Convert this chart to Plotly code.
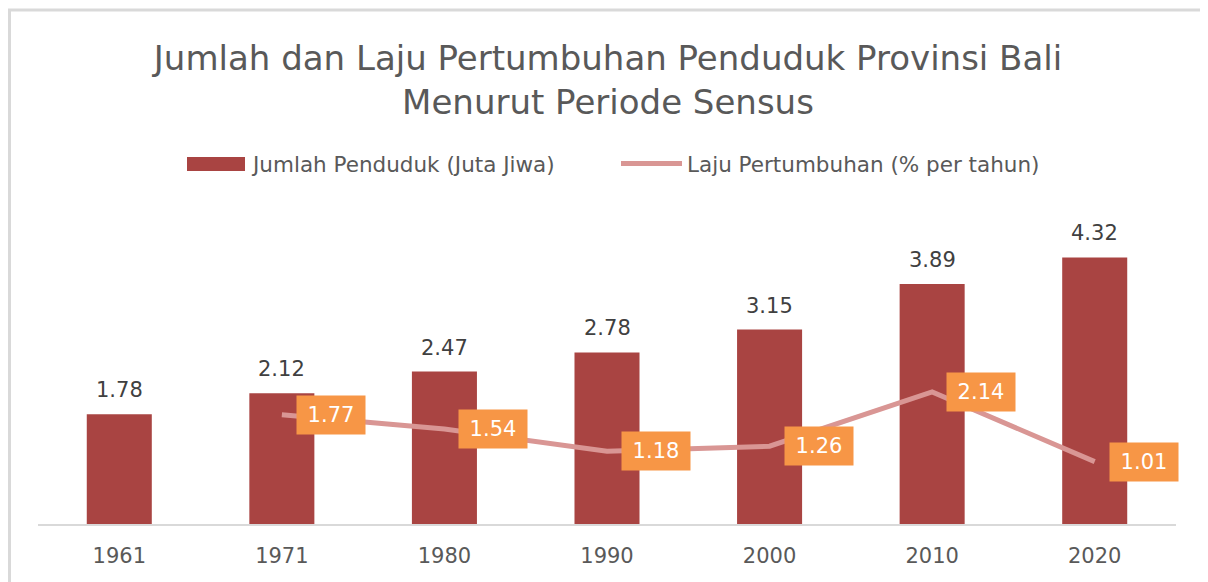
import plotly.graph_objects as go

years = ["1961", "1971", "1980", "1990", "2000", "2010", "2020"]
jumlah = [1.78, 2.12, 2.47, 2.78, 3.15, 3.89, 4.32]
laju_years = ["1971", "1980", "1990", "2000", "2010", "2020"]
laju = [1.77, 1.54, 1.18, 1.26, 2.14, 1.01]
legend_names = ["Jumlah Penduduk (Juta Jiwa)", "Laju Pertumbuhan (% per tahun)"]

FONT = "DejaVu Sans"
TXT = "#595959"
BAR = "#A94442"
LINE = "#D99694"
ORANGE = "#F79646"

# page is offset by the 8px body margin; work in page pixels, convert to figure pixels
OFF = 8
FW, FH = 1208 - OFF, 582 - OFF
L, R, T, B = 38 - OFF, 1176 - OFF, 200 - OFF, 524 - OFF
W, H = R - L, B - T
def px(x): return (x - OFF - L) / W       # page x -> paper
def py(y): return (B - (y - OFF)) / H     # page y -> paper

fig = go.Figure()
fig.add_trace(go.Bar(
    x=years, y=jumlah, name=legend_names[0],
    marker=dict(color=BAR, line=dict(width=0)), hoverinfo="x+y",
))
fig.add_trace(go.Scatter(
    x=laju_years, y=laju, name=legend_names[1],
    mode="lines", line=dict(color=LINE, width=5),
))

ann = []
for x, v in zip(years, jumlah):
    ann.append(dict(x=years.index(x), y=v, text=f"{v:.2f}", showarrow=False, yanchor="bottom",
                    yshift=10, font=dict(family=FONT, size=21, color="#404040")))
for x, v in zip(laju_years, laju):
    ann.append(dict(x=years.index(x), y=v, text=f"{v:.2f}", showarrow=False, xshift=49,
                    bgcolor=ORANGE, borderpad=7, width=54,
                    font=dict(family=FONT, size=21, color="white")))

# custom legend text
ann.append(dict(xref="paper", yref="paper", x=px(249), y=py(164), xanchor="left", yanchor="middle",
                text=legend_names[0], showarrow=False, font=dict(family=FONT, size=21.5, color=TXT)))
ann.append(dict(xref="paper", yref="paper", x=px(685), y=py(164), xanchor="left", yanchor="middle",
                text=legend_names[1], showarrow=False, font=dict(family=FONT, size=21.5, color=TXT)))

shapes = [
    # frame
    dict(type="line", xref="paper", yref="paper", x0=px(9.5), x1=px(9.5), y0=py(10), y1=py(590),
         line=dict(color="#D9D9D9", width=3)),
    dict(type="line", xref="paper", yref="paper", x0=px(8), x1=px(1215), y0=py(10), y1=py(10),
         line=dict(color="#D9D9D9", width=3)),
    # legend symbols
    dict(type="rect", xref="paper", yref="paper", x0=px(187), x1=px(245), y0=py(157), y1=py(171),
         fillcolor=BAR, line=dict(width=0)),
    dict(type="line", xref="paper", yref="paper", x0=px(621), x1=px(682), y0=py(163.5), y1=py(163.5),
         line=dict(color=LINE, width=5)),
]

fig.update_layout(
    width=FW, height=FH,
    margin=dict(l=L, r=FW - R, t=T, b=FH - B, pad=0),
    paper_bgcolor="white", plot_bgcolor="white",
    font=dict(family=FONT, color=TXT, size=20),
    title=dict(text="Jumlah dan Laju Pertumbuhan Penduduk Provinsi Bali<br>Menurut Periode Sensus",
               x=0.5, xanchor="center", y=1 - 62 / FH, yanchor="middle", yref="container",
               font=dict(family=FONT, size=34, color=TXT)),
    bargap=0.6,
    showlegend=False,
    xaxis=dict(type="category", range=[-0.5, len(years) - 0.5], showgrid=False, showline=True,
               linecolor="#D9D9D9", linewidth=2,
               ticks="", tickfont=dict(family=FONT, size=21, color=TXT), ticklabelstandoff=12),
    yaxis=dict(range=[0, 5.25], visible=False, showgrid=False, zeroline=False),
    annotations=ann, shapes=shapes,
)

fig.write_html("out.html")
